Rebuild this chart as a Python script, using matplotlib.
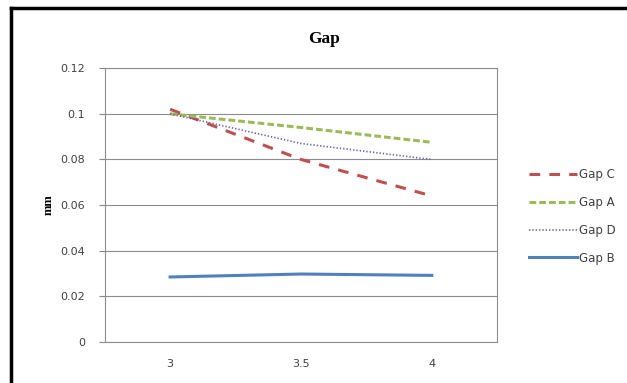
import matplotlib
matplotlib.use("Agg")
import matplotlib.pyplot as plt
from matplotlib.lines import Line2D

# x categories and series values (mm)
categories = ["3", "3.5", "4"]
gap_c = [0.102, 0.080, 0.064]
gap_a = [0.100, 0.094, 0.0875]
gap_d = [0.100, 0.087, 0.080]
gap_b = [0.0285, 0.0298, 0.0292]
y_ticks = [0, 0.02, 0.04, 0.06, 0.08, 0.1, 0.12]
y_labels = ["0", "0.02", "0.04", "0.06", "0.08", "0.1", "0.12"]

plt.rcParams["font.family"] = ["DejaVu Sans"]

fig = plt.figure(figsize=(6.27, 3.83), dpi=100)
ax = fig.add_axes([0.167, 0.107, 0.626, 0.715])

x = list(range(len(categories)))

ax.plot(x, gap_c, color="#C0504D", lw=2.2, dashes=(3.5, 3), label="Gap C")
ax.plot(x, gap_a, color="#9BBB59", lw=2.2, dashes=(2.2, 1.0), label="Gap A")
ax.plot(x, gap_d, color="#6A5FA8", lw=1.2, dashes=(0.8, 1.2), label="Gap D")
ax.plot(x, gap_b, color="#4F81BD", lw=2.2, label="Gap B")

ax.set_xlim(-0.5, 2.5)
ax.set_ylim(0, 0.12)
ax.set_xticks(x)
ax.set_xticklabels(categories)
ax.set_yticks(y_ticks)
ax.set_yticklabels(y_labels)
ax.tick_params(axis="x", length=0, pad=12, labelsize=8, labelcolor="#404040")
ax.tick_params(axis="y", length=4, width=0.8, color="#888888", pad=10,
               labelsize=8, labelcolor="#404040")
ax.grid(axis="y", color="#8c8c8c", lw=0.8)
ax.set_axisbelow(True)
for side in ["left", "right", "top", "bottom"]:
    ax.spines[side].set_color("#8c8c8c")
    ax.spines[side].set_linewidth(0.8)

ax.set_ylabel("mm", family="Liberation Serif", fontweight="bold", fontsize=9,
              labelpad=4)
fig.text(0.517, 0.897, "Gap", family="Liberation Serif", fontweight="bold",
         fontsize=12.5, ha="center", va="center")

ax.legend(loc="center left", bbox_to_anchor=(0.835, 0.435),
          bbox_transform=fig.transFigure, frameon=False, fontsize=8.5,
          handlelength=4.0, handletextpad=0.2, labelspacing=1.25,
          borderpad=0, labelcolor="#404040")

# outer chart border (top and left edges)
fig.add_artist(Line2D([11 / 627, 11 / 627], [0, 1 - 8 / 383], color="black",
                      lw=2.5, transform=fig.transFigure))
fig.add_artist(Line2D([11 / 627, 1], [1 - 8 / 383, 1 - 8 / 383], color="black",
                      lw=2.5, transform=fig.transFigure))

fig.savefig("out.png", dpi=100)
